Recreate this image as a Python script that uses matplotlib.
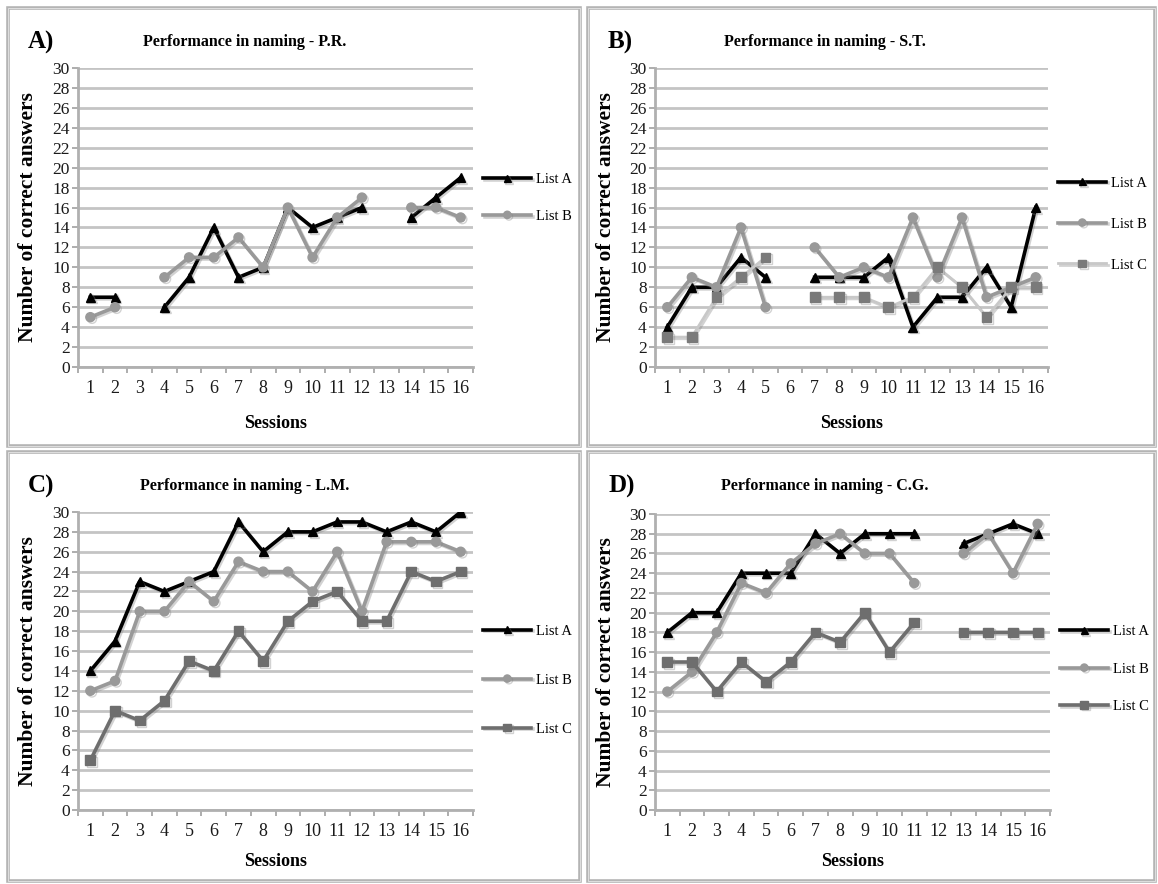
import numpy as np
import matplotlib
matplotlib.use("Agg")
import matplotlib.pyplot as plt
from matplotlib.patches import Rectangle
import matplotlib.patheffects as pe

plt.rcParams['font.family'] = ['Liberation Serif', 'DejaVu Serif']

nan = np.nan
sessions = list(range(1, 17))
session_labels = [str(s) for s in sessions]

# Panel A - P.R.
pr_list_a = [7, 7, nan, 6, 9, 14, 9, 10, 16, 14, 15, 16, nan, 15, 17, 19]
pr_list_b = [5, 6, nan, 9, 11, 11, 13, 10, 16, 11, 15, 17, nan, 16, 16, 15]

# Panel B - S.T.
st_list_a = [4, 8, 8, 11, 9, nan, 9, 9, 9, 11, 4, 7, 7, 10, 6, 16]
st_list_b = [6, 9, 8, 14, 6, nan, 12, 9, 10, 9, 15, 9, 15, 7, 8, 9]
st_list_c = [3, 3, 7, 9, 11, nan, 7, 7, 7, 6, 7, 10, 8, 5, 8, 8]

# Panel C - L.M.
lm_list_a = [14, 17, 23, 22, 23, 24, 29, 26, 28, 28, 29, 29, 28, 29, 28, 30]
lm_list_b = [12, 13, 20, 20, 23, 21, 25, 24, 24, 22, 26, 20, 27, 27, 27, 26]
lm_list_c = [5, 10, 9, 11, 15, 14, 18, 15, 19, 21, 22, 19, 19, 24, 23, 24]

# Panel D - C.G.
cg_list_a = [18, 20, 20, 24, 24, 24, 28, 26, 28, 28, 28, nan, 27, 28, 29, 28]
cg_list_b = [12, 14, 18, 23, 22, 25, 27, 28, 26, 26, 23, nan, 26, 28, 24, 29]
cg_list_c = [15, 15, 12, 15, 13, 15, 18, 17, 20, 16, 19, nan, 18, 18, 18, 18]

W, H = 1158, 884
fig = plt.figure(figsize=(W / 100, H / 100), dpi=100)
fig.patch.set_facecolor('white')


def fx(x):
    return x / W


def fy(y):
    return 1 - y / H


# panel borders (double grey frame)
for (x0, y0, x1, y1) in [(8, 8, 580, 446), (588, 8, 1155, 446),
                         (8, 452, 580, 881), (588, 452, 1155, 881)]:
    fig.add_artist(Rectangle((fx(x0), fy(y1)), fx(x1 - x0), (y1 - y0) / H,
                             transform=fig.transFigure, fill=False,
                             edgecolor='#b4b4b4', linewidth=2.6))
    fig.add_artist(Rectangle((fx(x0), fy(y1)), fx(x1 - x0), (y1 - y0) / H,
                             transform=fig.transFigure, fill=False,
                             edgecolor='#e6e6e6', linewidth=0.6))

shadow = [pe.SimpleLineShadow(offset=(1.2, -1.2), shadow_color='0.5', alpha=0.35), pe.Normal()]

styles = {
    'A': dict(color='black', marker='^', markersize=6.5, linewidth=2.6, mfc='black', mec='black'),
    'B': dict(color='#999999', marker='o', markersize=6.5, linewidth=2.6, mfc='#999999', mec='#999999'),
    'C_light': dict(color='#c8c8c8', marker='s', markersize=7, linewidth=2.0, mfc='#7a7a7a', mec='#7a7a7a'),
    'C_dark': dict(color='#6e6e6e', marker='s', markersize=7, linewidth=2.6, mfc='#6e6e6e', mec='#6e6e6e'),
}

panels = [
    dict(letter='A)', title='Performance in naming - P.R.', box=(78, 68, 473, 367),
         series=[('List A', pr_list_a, 'A'), ('List B', pr_list_b, 'B')],
         leg_y=0.565, leg_sp=1.6, title_x=245, letter_x=28, title_y=42, sess_y=423, ylab_x=28),
    dict(letter='B)', title='Performance in naming - S.T.', box=(655, 68, 1048, 367),
         series=[('List A', st_list_a, 'A'), ('List B', st_list_b, 'B'), ('List C', st_list_c, 'C_light')],
         leg_y=0.478, leg_sp=1.9, title_x=825, letter_x=608, title_y=42, sess_y=423, ylab_x=606),
    dict(letter='C)', title='Performance in naming - L.M.', box=(78, 512, 473, 810),
         series=[('List A', lm_list_a, 'A'), ('List B', lm_list_b, 'B'), ('List C', lm_list_c, 'C_dark')],
         leg_y=0.436, leg_sp=2.45, title_x=245, letter_x=28, title_y=486, sess_y=862, ylab_x=28),
    dict(letter='D)', title='Performance in naming - C.G.', box=(655, 514, 1050, 810),
         series=[('List A', cg_list_a, 'A'), ('List B', cg_list_b, 'B'), ('List C', cg_list_c, 'C_dark')],
         leg_y=0.476, leg_sp=1.65, title_x=825, letter_x=608, title_y=486, sess_y=862, ylab_x=606),
]

for p in panels:
    x0, y0, x1, y1 = p['box']
    ax = fig.add_axes([fx(x0), fy(y1), (x1 - x0) / W, (y1 - y0) / H])
    for lab, vals, st in p['series']:
        ax.plot(sessions, vals, label=lab, path_effects=shadow, zorder=3, **styles[st])
    ax.set_xlim(0.5, 16.5)
    ax.set_ylim(0, 30)
    ax.set_yticks(range(0, 31, 2))
    ax.set_xticks(sessions)
    ax.set_xticklabels(session_labels)
    ax.set_xticks(np.arange(0.5, 17, 1), minor=True)
    ax.tick_params(axis='x', which='major', length=0, pad=9, labelsize=13)
    ax.tick_params(axis='x', which='minor', length=4, color='#a0a0a0', width=1.2, direction='out')
    ax.tick_params(axis='y', length=4, color='#a0a0a0', width=1.2, labelsize=12.5, pad=2)
    ax.grid(axis='y', color='#c4c4c4', linewidth=2.0, zorder=0)
    ax.set_axisbelow(True)
    for s in ['top', 'right']:
        ax.spines[s].set_visible(False)
    for s in ['left', 'bottom']:
        ax.spines[s].set_color('#b0b0b0')
        ax.spines[s].set_linewidth(2.0)
    for t in ax.get_xticklabels() + ax.get_yticklabels():
        t.set_color('#1a1a1a')
    ax.legend(loc='center left', bbox_to_anchor=(1.0, p['leg_y']), frameon=False,
              handlelength=3.3, labelspacing=p['leg_sp'], fontsize=10.5, markerscale=0.8,
              borderaxespad=0.3, handletextpad=0.3)
    fig.text(fx(p['letter_x']), fy(p['title_y']), p['letter'], fontsize=18, fontweight='bold',
             ha='left', va='center')
    fig.text(fx(p['title_x']), fy(p['title_y']), p['title'], fontsize=11.5, fontweight='bold',
             ha='center', va='center')
    fig.text(fx((x0 + x1) / 2), fy(p['sess_y']), 'Sessions', fontsize=13, fontweight='bold',
             ha='center', va='center')
    fig.text(fx(p['ylab_x']), fy((y0 + y1) / 2), 'Number of correct answers', fontsize=15.5,
             fontweight='bold', ha='center', va='center', rotation=90)

fig.savefig('out.png', dpi=100, facecolor='white')
